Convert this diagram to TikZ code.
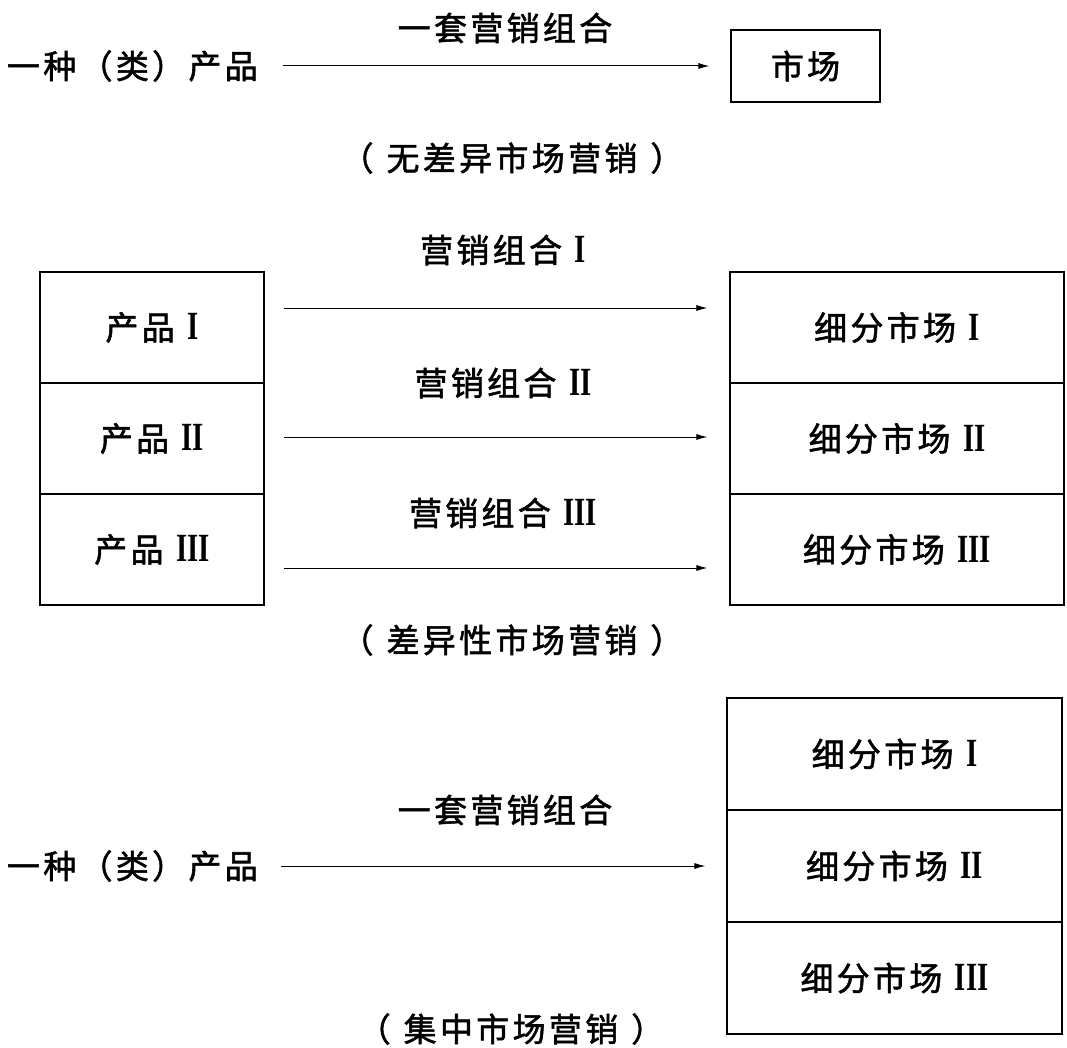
\documentclass[tikz,border=0pt]{standalone}
\usepackage{fontspec}
\usepackage{graphicx}
\newfontfamily\cjkf[LetterSpace=10,FakeBold=1.6]{Noto Sans CJK SC}
\newfontfamily\romanf{Liberation Serif}
\usetikzlibrary{arrows.meta}
\newcommand{\rn}[1]{\hspace{0.38em}{\romanf\bfseries\fontsize{40}{40}\selectfont\scalebox{0.72}[1]{#1}}}
\newcommand{\pad}{\hspace{13pt}}
\begin{document}
\begin{tikzpicture}[x=1pt,y=-1pt,
  txt/.style={font=\cjkf\fontsize{33}{40}\selectfont, inner sep=0pt},
  cell/.style={draw, line width=1.1pt, inner sep=0pt, font=\cjkf\fontsize{33}{40}\selectfont},
  arr/.style={line width=1pt, -{Latex[length=11pt,width=6pt]}}]
\useasboundingbox (0,0) rectangle (1067,1048);
% Section 1
\node[txt, anchor=east] (p1) at (258,66) {一种（类）产品};
\node[cell, minimum width=149pt, minimum height=72pt] (m1) at (805.5,66) {市场};
\node[txt] (l1) at (505,28) {一套营销组合};
\draw[arr, shorten <=25pt, shorten >=21pt] (p1.east) -- (m1.west);
\node[txt] (c1) at (512,158) {（\pad 无差异市场营销\pad ）};
% Section 2
\node[cell, minimum width=224pt, minimum height=111pt] (P1) at (152,327.5) {产品\rn{I}};
\node[cell, minimum width=224pt, minimum height=111pt] (P2) at (152,438.5) {产品\rn{II}};
\node[cell, minimum width=224pt, minimum height=111pt] (P3) at (152,549.5) {产品\rn{III}};
\node[cell, minimum width=334pt, minimum height=111pt] (S1) at (897,327.5) {细分市场\rn{I}};
\node[cell, minimum width=334pt, minimum height=111pt] (S2) at (897,438.5) {细分市场\rn{II}};
\node[cell, minimum width=334pt, minimum height=111pt] (S3) at (897,549.5) {细分市场\rn{III}};
\node[txt] (M1) at (503,250) {营销组合\rn{I}};
\node[txt] (M2) at (503,383) {营销组合\rn{II}};
\node[txt] (M3) at (503,513) {营销组合\rn{III}};
\draw[arr, shorten <=19pt, shorten >=22pt] ([yshift=19.5pt]P1.east) -- ([yshift=19.5pt]S1.west);
\draw[arr, shorten <=19pt, shorten >=22pt] ([yshift=1.5pt]P2.east) -- ([yshift=1.5pt]S2.west);
\draw[arr, shorten <=19pt, shorten >=22pt] ([yshift=-18.5pt]P3.east) -- ([yshift=-18.5pt]S3.west);
\node[txt] (c2) at (512,640) {（\pad 差异性市场营销\pad ）};
% Section 3
\node[cell, minimum width=335pt, minimum height=112pt] (T1) at (894.5,754) {细分市场\rn{I}};
\node[cell, minimum width=335pt, minimum height=112pt] (T2) at (894.5,866) {细分市场\rn{II}};
\node[cell, minimum width=335pt, minimum height=112pt] (T3) at (894.5,978) {细分市场\rn{III}};
\node[txt, anchor=east] (p3) at (258,866) {一种（类）产品};
\node[txt] (l3) at (505,810) {一套营销组合};
\draw[arr, shorten <=23pt, shorten >=21pt] (p3.east) -- (T2.west);
\node[txt] (c3) at (511,1029) {（\pad 集中市场营销\pad ）};
\end{tikzpicture}
\end{document}
